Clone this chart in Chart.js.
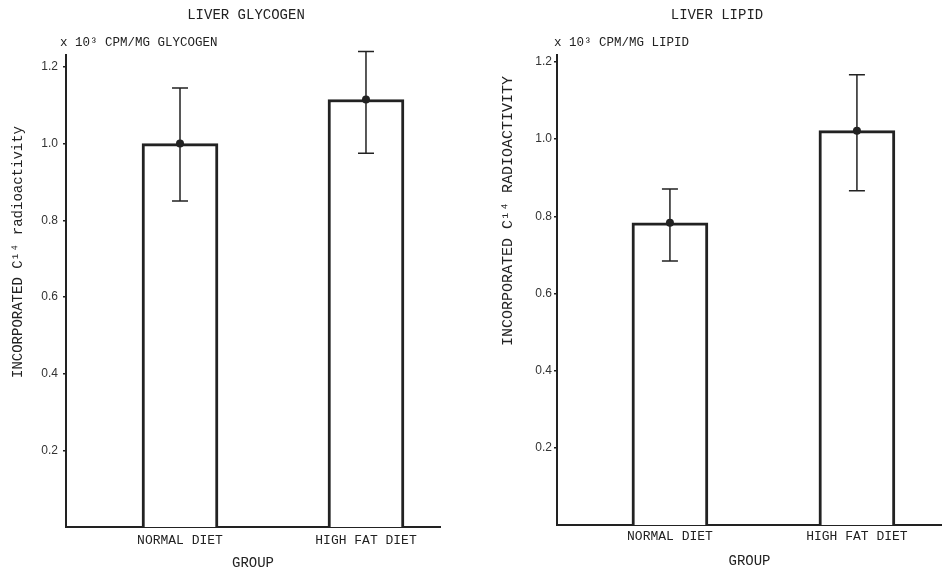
<!DOCTYPE html>
<html>
<head>
<meta charset="utf-8">
<script src="https://cdn.jsdelivr.net/npm/chart.js@4/dist/chart.umd.min.js"></script>
<style>
  body { margin: 0; background: #fff; }
  #wrap { position: relative; width: 942px; height: 572px; }
  canvas { position: absolute; top: 0; }
  #glycogen { left: 0; }
  #lipid { left: 471px; }
</style>
</head>
<body>
<div id="wrap">
  <canvas id="glycogen" width="471" height="572"></canvas>
  <canvas id="lipid" width="471" height="572"></canvas>
</div>
<script>
// values (x 10^3 cpm/mg)
const groups = ['NORMAL DIET', 'HIGH FAT DIET']
const yTicks = [0.2, 0.4, 0.6, 0.8, 1.0, 1.2]

const glycogenMean = [1.00, 1.115]
const glycogenLow = [0.85, 0.975]
const glycogenHigh = [1.145, 1.24]

const lipidMean = [0.783, 1.022]
const lipidLow = [0.684, 0.866]
const lipidHigh = [0.871, 1.167]

const INK = '#222'
const FONT = "'Liberation Mono', 'DejaVu Sans Mono', monospace"
const TICK_FONT = "'Liberation Sans', Arial, sans-serif"

// error bars + dot at the mean, drawn through the chart's scales
const errorBars = {
    id: 'errorBars',
    afterDatasetsDraw(chart, args, opts) {
        const { ctx, scales: { x, y } } = chart
        ctx.save()
        ctx.strokeStyle = INK
        ctx.fillStyle = INK
        ctx.lineWidth = 1.5
        opts.mean.forEach((m, i) => {
            const px = x.getPixelForValue(i)
            const lo = y.getPixelForValue(opts.low[i])
            const hi = y.getPixelForValue(opts.high[i])
            ctx.beginPath()
            ctx.moveTo(px, lo); ctx.lineTo(px, hi)
            ctx.moveTo(px - 8, lo); ctx.lineTo(px + 8, lo)
            ctx.moveTo(px - 8, hi); ctx.lineTo(px + 8, hi)
            ctx.stroke()
            ctx.beginPath()
            ctx.arc(px, y.getPixelForValue(m), 4, 0, Math.PI * 2)
            ctx.fill()
        })
        ctx.restore()
    }
}

// titles and the rotated y label
const labels = {
    id: 'labels',
    afterDraw(chart, args, opts) {
        const { ctx } = chart
        ctx.save()
        ctx.fillStyle = INK
        ctx.textBaseline = 'middle'
        ctx.font = '14px ' + FONT
        ctx.textAlign = 'center'
        ctx.fillText(opts.title, opts.titleX, 15)
        ctx.font = '12.5px ' + FONT
        ctx.textAlign = 'left'
        ctx.fillText(opts.unit, opts.unitX, 43)
        ctx.translate(opts.yLabelX, opts.yLabelY)
        ctx.rotate(-Math.PI / 2)
        ctx.textAlign = 'center'
        ctx.font = opts.yLabelSize + 'px ' + FONT
        ctx.fillText(opts.yLabel, 0, 0)
        ctx.restore()
    }
}

function makeChart(id, d) {
    return new Chart(document.getElementById(id), {
        type: 'bar',
        data: {
            datasets: [{
                data: d.mean.map((v, i) => ({ x: i, y: v })),
                backgroundColor: '#fff',
                borderColor: INK,
                borderWidth: 3,
                borderSkipped: 'bottom',
                barThickness: 76
            }]
        },
        options: {
            responsive: false,
            animation: false,
            layout: { padding: { top: 55, right: d.padRight, left: 0, bottom: 0 } },
            plugins: {
                legend: { display: false },
                tooltip: { enabled: false },
                errorBars: { mean: d.mean, low: d.low, high: d.high },
                labels: d.text
            },
            scales: {
                x: {
                    type: 'linear',
                    offset: false,
                    min: d.xMin,
                    max: d.xMax,
                    afterFit: (s) => { s.height = d.xHeight },
                    afterBuildTicks: (s) => { s.ticks = groups.map((g, i) => ({ value: i })) },
                    grid: { display: false, drawTicks: false, offset: false },
                    border: { display: true, color: INK, width: 2 },
                    ticks: {
                        padding: d.xTickPad,
                        color: INK,
                        font: { family: FONT, size: 13 },
                        callback: (v) => groups[v]
                    },
                    title: {
                        display: true,
                        text: 'GROUP',
                        color: INK,
                        font: { family: FONT, size: 14 },
                        padding: { top: 0, bottom: d.groupPad }
                    }
                },
                y: {
                    min: 0,
                    max: d.yMax,
                    afterFit: (s) => { s.width = d.yWidth },
                    afterBuildTicks: (s) => { s.ticks = yTicks.map((v) => ({ value: v })) },
                    grid: { drawOnChartArea: false, drawTicks: true, tickLength: 3, color: INK, lineWidth: 1.5 },
                    border: { color: INK, width: 2 },
                    ticks: {
                        padding: d.yTickPad,
                        color: '#333',
                        font: { family: TICK_FONT, size: 12 },
                        callback: (v) => v.toFixed(1)
                    }
                }
            }
        },
        plugins: [errorBars, labels]
    })
}

makeChart('glycogen', {
    mean: glycogenMean, low: glycogenLow, high: glycogenHigh,
    xMin: -0.613, xMax: 1.398, yMax: 1.231,
    padRight: 31, yWidth: 66, xHeight: 45,
    xTickPad: 6, groupPad: 0, yTickPad: 5,
    text: {
        title: 'LIVER GLYCOGEN', titleX: 246,
        unit: 'x 10\u00b3 CPM/MG GLYCOGEN', unitX: 60,
        yLabel: 'INCORPORATED C\u00b9\u2074 radioactivity', yLabelX: 18, yLabelY: 252, yLabelSize: 14
    }
})

makeChart('lipid', {
    mean: lipidMean, low: lipidLow, high: lipidHigh,
    xMin: -0.604, xMax: 1.455, yMax: 1.218,
    padRight: 0, yWidth: 86, xHeight: 47,
    xTickPad: 4, groupPad: 2, yTickPad: 2,
    text: {
        title: 'LIVER LIPID', titleX: 246,
        unit: 'x 10\u00b3 CPM/MG LIPID', unitX: 83,
        yLabel: 'INCORPORATED C\u00b9\u2074 RADIOACTIVITY', yLabelX: 37, yLabelY: 211, yLabelSize: 15
    }
})
</script>
</body>
</html>
